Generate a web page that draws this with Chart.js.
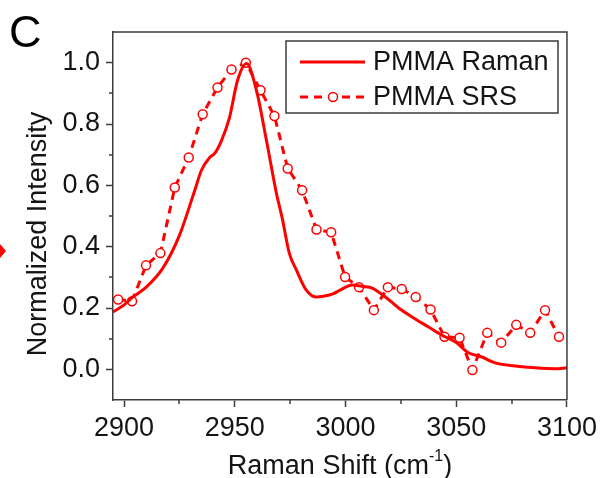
<!DOCTYPE html>
<html>
<head>
<meta charset="utf-8">
<script src="https://cdn.jsdelivr.net/npm/chart.js@4/dist/chart.umd.min.js"></script>
<style>
    html, body { margin: 0; padding: 0; background: #fff; }
    #wrap { position: relative; width: 602px; height: 478px; }
</style>
</head>
<body>
<div id="wrap"><canvas id="ramanChart" width="602" height="478"></canvas></div>
<script>
// PMMA Raman (solid line)
const ramanX = [2895, 2900, 2904, 2910, 2917.5, 2925, 2931.5, 2935, 2938.7, 2941, 2944, 2947.6, 2951.2, 2955.3,
    2959.8, 2964.3, 2968.8, 2971.5, 2974.6, 2977.8, 2982.2, 2986.7, 2990, 2994, 2998, 3003, 3008, 3012,
    3018, 3024, 3030, 3037.5, 3043.4, 3049.7, 3055.5, 3061.3, 3067.6, 3076.6, 3085.6, 3094.6, 3100];
const ramanY = [0.187, 0.21, 0.236, 0.268, 0.33, 0.437, 0.574, 0.65, 0.691, 0.705, 0.746, 0.821, 0.941, 0.997,
    0.909, 0.746, 0.574, 0.49, 0.379, 0.324, 0.259, 0.236, 0.238, 0.245, 0.26, 0.275, 0.27, 0.265,
    0.236, 0.2, 0.171, 0.138, 0.112, 0.089, 0.054, 0.041, 0.021, 0.011, 0.005, 0.002, 0.005];

// PMMA SRS (dashed line with open circles)
const srsX = [2897.3, 2903.6, 2909.9, 2916.4, 2922.9, 2929.2, 2935.5, 2942.2, 2948.5, 2955.0, 2961.6, 2967.9,
    2973.9, 2980.4, 2986.9, 2993.5, 2999.8, 3006.1, 3012.8, 3019.1, 3025.4, 3031.7, 3038.4, 3044.7,
    3051.5, 3057.3, 3064.0, 3070.3, 3077.1, 3083.4, 3090.1, 3096.4];
const srsY = [0.228, 0.222, 0.339, 0.379, 0.593, 0.691, 0.832, 0.919, 0.978, 1.0, 0.91, 0.826,
    0.655, 0.584, 0.456, 0.447, 0.301, 0.268, 0.193, 0.268, 0.262, 0.236, 0.195, 0.106,
    0.103, -0.002, 0.119, 0.087, 0.145, 0.119, 0.193, 0.106];

const xTicks = [2900, 2925, 2950, 2975, 3000, 3025, 3050, 3075, 3100];
const xLabels = [2900, 2950, 3000, 3050, 3100];
const yTicks = [0.0, 0.1, 0.2, 0.3, 0.4, 0.5, 0.6, 0.7, 0.8, 0.9, 1.0];
const yLabels = [0.0, 0.2, 0.4, 0.6, 0.8, 1.0];
const seriesNames = ['PMMA Raman', 'PMMA SRS'];

document.addEventListener('DOMContentLoaded', function() {
    const red = '#ff0000';
    const axisColor = '#3c3c3c';
    const textColor = '#141414';
    const family = '"Liberation Sans", Arial, Helvetica, sans-serif';
    const font = { family: family, size: 27 };

    const isLabel = (list, v) => list.some(l => Math.abs(l - v) < 1e-6);
    const majorColor = list => c => (c.tick && isLabel(list, c.tick.value)) ? axisColor : 'rgba(0,0,0,0)';

    const decorPlugin = {
        id: 'decor',
        afterDraw(chart) {
            const c = chart.ctx;
            const a = chart.chartArea;
            const xs = chart.scales.x;
            const ys = chart.scales.y;
            c.save();

            // top / right frame
            c.strokeStyle = axisColor;
            c.lineWidth = 1.5;
            c.beginPath();
            c.moveTo(a.left, a.top);
            c.lineTo(a.right, a.top);
            c.lineTo(a.right, a.bottom);
            c.stroke();

            // short minor ticks
            c.beginPath();
            xTicks.filter(v => !isLabel(xLabels, v)).forEach(v => {
                const px = Math.round(xs.getPixelForValue(v));
                c.moveTo(px, a.bottom);
                c.lineTo(px, a.bottom + 4);
            });
            yTicks.filter(v => !isLabel(yLabels, v)).forEach(v => {
                const py = Math.round(ys.getPixelForValue(v));
                c.moveTo(a.left, py);
                c.lineTo(a.left - 4, py);
            });
            c.stroke();

            // legend box
            c.strokeRect(286, 41, 272, 72);
            c.strokeStyle = red;
            c.lineWidth = 3;
            c.beginPath();
            c.moveTo(300, 62);
            c.lineTo(365, 62);
            c.stroke();
            c.setLineDash([8, 6]);
            c.beginPath();
            c.moveTo(300, 97);
            c.lineTo(365, 97);
            c.stroke();
            c.setLineDash([]);
            c.fillStyle = '#fff';
            c.lineWidth = 1.5;
            c.beginPath();
            c.arc(333, 97, 4.5, 0, Math.PI * 2);
            c.fill();
            c.stroke();

            c.fillStyle = textColor;
            c.font = '27px ' + family;
            c.textBaseline = 'middle';
            c.textAlign = 'left';
            c.fillText(seriesNames[0], 373, 63);
            c.fillText(seriesNames[1], 373, 98);

            // axis titles
            c.textBaseline = 'alphabetic';
            c.textAlign = 'left';
            const t1 = 'Raman Shift (cm';
            const sup = '-1';
            const t2 = ')';
            const w1 = c.measureText(t1).width;
            const w2 = c.measureText(t2).width;
            c.font = '16px ' + family;
            const ws = c.measureText(sup).width;
            let x0 = (a.left + a.right) / 2 - (w1 + ws + w2) / 2;
            c.font = '27px ' + family;
            c.fillText(t1, x0, 474);
            c.font = '16px ' + family;
            c.fillText(sup, x0 + w1, 461);
            c.font = '27px ' + family;
            c.fillText(t2, x0 + w1 + ws, 474);

            c.save();
            c.translate(46, 234);
            c.rotate(-Math.PI / 2);
            c.textAlign = 'center';
            c.fillText('Normalized Intensity', 0, 0);
            c.restore();

            // panel letter
            c.font = '45px ' + family;
            c.fillStyle = '#000';
            c.fillText('C', 9, 47);

            // arrow tip from neighbouring panel
            c.fillStyle = red;
            c.beginPath();
            c.moveTo(0, 244);
            c.lineTo(6, 251);
            c.lineTo(0, 258);
            c.closePath();
            c.fill();

            c.restore();
        }
    };

    const ctx = document.getElementById('ramanChart').getContext('2d');
    new Chart(ctx, {
        type: 'line',
        data: {
            datasets: [{
                label: seriesNames[0],
                data: ramanX.map((x, i) => ({ x: x, y: ramanY[i] })),
                borderColor: red,
                borderWidth: 3,
                pointRadius: 0,
                cubicInterpolationMode: 'monotone',
                fill: false
            }, {
                label: seriesNames[1],
                data: srsX.map((x, i) => ({ x: x, y: srsY[i] })),
                borderColor: red,
                borderWidth: 3,
                borderDash: [8, 6],
                pointRadius: 4.5,
                pointBorderWidth: 1.5,
                pointBorderColor: red,
                pointBackgroundColor: '#fff',
                tension: 0,
                fill: false
            }]
        },
        options: {
            responsive: false,
            animation: false,
            layout: { padding: { top: 32, right: 33, left: 0, bottom: 0 } },
            plugins: {
                legend: { display: false },
                tooltip: { enabled: false }
            },
            scales: {
                x: {
                    type: 'linear',
                    min: 2895,
                    max: 3100,
                    afterBuildTicks: s => { s.ticks = xTicks.map(v => ({ value: v })); },
                    afterFit: s => { s.height = 78; },
                    grid: { drawOnChartArea: false, tickLength: 7, tickWidth: 1.5, tickColor: majorColor(xLabels) },
                    border: { color: axisColor, width: 1.5 },
                    ticks: {
                        font: font,
                        color: textColor,
                        padding: 5,
                        maxRotation: 0,
                        autoSkip: false,
                        callback: v => isLabel(xLabels, v) ? String(v) : ''
                    }
                },
                y: {
                    type: 'linear',
                    min: -0.1,
                    max: 1.1,
                    afterBuildTicks: s => { s.ticks = yTicks.map(v => ({ value: v })); },
                    afterFit: s => { s.width = 113; },
                    grid: { drawOnChartArea: false, tickLength: 7, tickWidth: 1.5, tickColor: majorColor(yLabels) },
                    border: { color: axisColor, width: 1.5 },
                    ticks: {
                        font: font,
                        color: textColor,
                        padding: 6,
                        autoSkip: false,
                        callback: v => isLabel(yLabels, v) ? v.toFixed(1) : ''
                    }
                }
            }
        },
        plugins: [decorPlugin]
    });
});
</script>
</body>
</html>
